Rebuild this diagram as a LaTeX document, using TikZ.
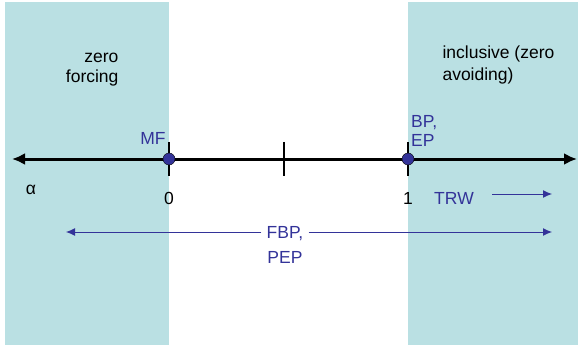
\documentclass[tikz,border=0pt]{standalone}
\usepackage{fontspec}
\setmainfont{Liberation Sans}
\usetikzlibrary{arrows.meta}

\definecolor{regioncyan}{RGB}{186,224,227}
\definecolor{labelblue}{RGB}{51,51,153}

\begin{document}
\begin{tikzpicture}[x = 1pt, y = -1pt, > = {Latex[length = 13pt, width = 12pt]},
	font = \fontsize{17.5}{22}\selectfont,
	tick/.style = {line width = 2.5pt},
	dot/.style = {circle, draw = black, fill = labelblue, minimum size = 12pt, inner sep = 0pt},
	bluelabel/.style = {text = labelblue, inner sep = 1pt},
	bluearrow/.style = {draw = labelblue, line width = 1pt, -{Latex[length = 9pt, width = 8pt]}}]

	% Definitions

	\def\axisY{159}		% Vertical position of the axis
	\def\zeroX{169}		% alpha = 0
	\def\oneX{408}		% alpha = 1
	\def\tickH{17}		% Half height of a tick

	\useasboundingbox (0, 0) rectangle (578, 350);

	% Shaded regions

	\fill [regioncyan] (5, 2) rectangle (\zeroX, 345);
	\fill [regioncyan] (\oneX, 2) rectangle (578, 345);

	% Region labels

	\node [align = right, anchor = east, font = \fontsize{17.5}{20}\selectfont] (forcing) at (122, 70) {zero\\forcing};
	\node [align = left, anchor = west] (avoiding) at (439, 65) {inclusive (zero\\avoiding)};

	% Axis

	\coordinate (axisL) at (12, \axisY);
	\coordinate (axisR) at (577, \axisY);
	\draw [<->, line width = 3pt] (axisL) -- (axisR);

	\foreach \x in {\zeroX, 284, \oneX}
		\draw [tick] (\x, \axisY - \tickH) -- (\x, \axisY + \tickH);

	% Divergences on the axis

	\node [dot] (mf) at (\zeroX, \axisY) {};
	\node [dot] (bp) at (\oneX, \axisY) {};

	\node [bluelabel] (mflabel) at (153, 138) {MF};
	\node [bluelabel, align = left, anchor = west, font = \fontsize{17.5}{18.5}\selectfont] (bplabel) at (410, 131) {BP,\\EP};

	% Axis labels

	\node (alpha) at (31, 190) {α};
	\node (zero) at (\zeroX, 198) {0};
	\node (one) at (\oneX, 198) {1};

	% TRW

	\node [bluelabel] (trw) at (454, 198) {TRW};
	\coordinate (trwS) at (492, 194);
	\coordinate (trwE) at (552, 194);
	\draw [bluearrow] (trwS) -- (trwE);

	% FBP, PEP

	\node [bluelabel, inner xsep = 5pt] (fbp) at (285, 234) {FBP,};
	\node [bluelabel] (pep) at (285, 257) {PEP};
	\coordinate (fbpL) at (66, 232);
	\coordinate (fbpR) at (552, 232);
	\draw [bluearrow] (fbp.west |- fbpL) -- (fbpL);
	\draw [bluearrow] (fbp.east |- fbpR) -- (fbpR);

\end{tikzpicture}
\end{document}
